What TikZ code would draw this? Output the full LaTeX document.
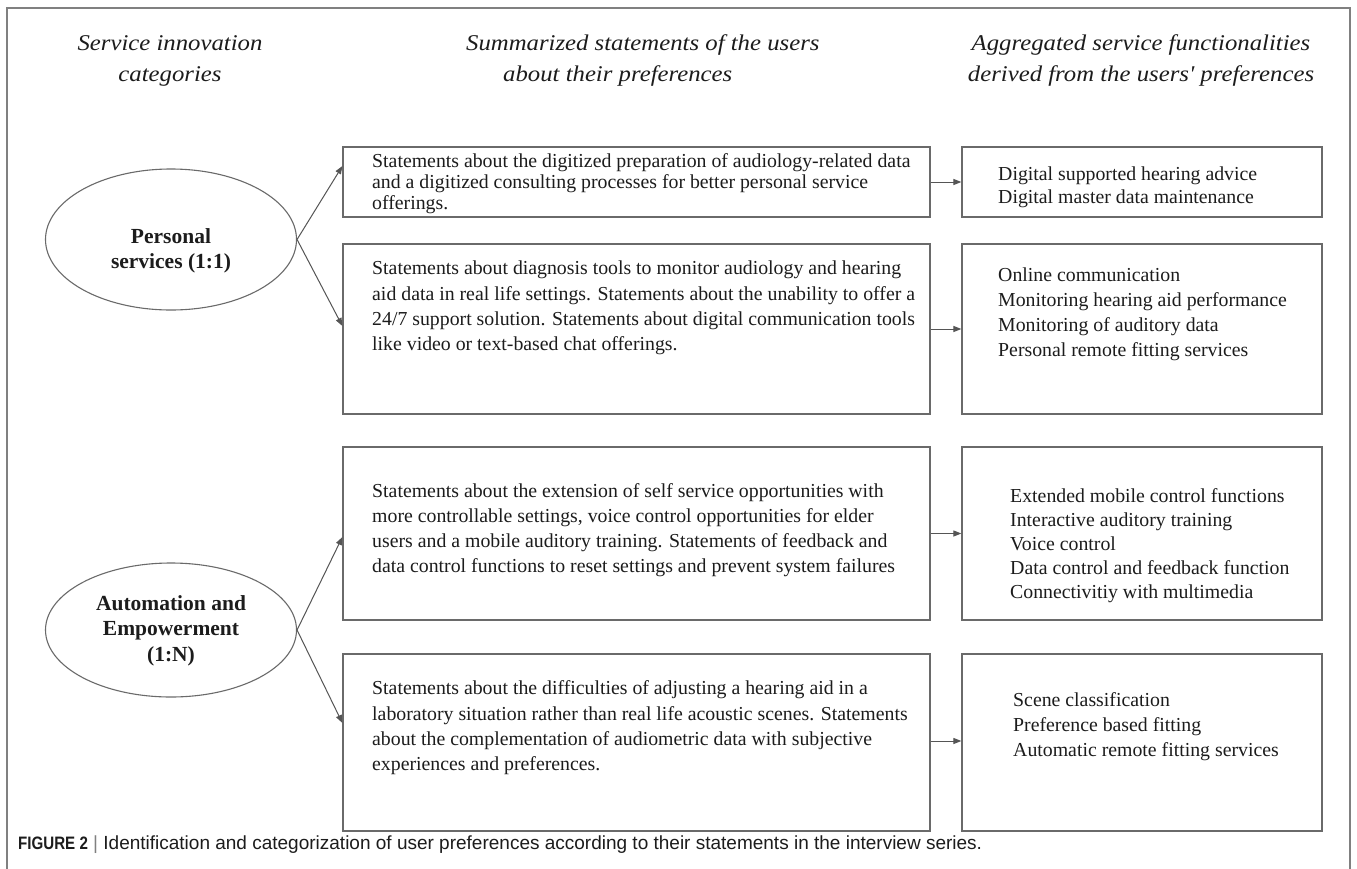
\documentclass[tikz,border=0pt]{standalone}
\usepackage{fontspec}
\setmainfont{Liberation Serif}
\newfontfamily\headfont[FakeStretch=1.1]{Liberation Serif}
\newfontfamily\capbold[FakeStretch=0.84]{Liberation Sans}
\newfontfamily\capreg{Liberation Sans}
\usetikzlibrary{arrows.meta,shapes.geometric}
\definecolor{framegray}{HTML}{808080}
\definecolor{boxgray}{HTML}{6A6A6A}
\definecolor{inkgray}{HTML}{1C1C1C}
\definecolor{arrowgray}{HTML}{555555}

\begin{document}
\begin{tikzpicture}[x=1pt,y=-1pt,
  box/.style={draw=boxgray, line width=1.2pt, rectangle, inner sep=0pt},
  midbox/.style={box, minimum width=587pt},
  funbox/.style={box, minimum width=360pt},
  cat/.style={draw=boxgray, line width=1.1pt, ellipse, inner sep=0pt,
    minimum width=251pt},
  catlabel/.style={anchor=base, align=center, inner sep=0pt, text=inkgray,
    font=\bfseries\fontsize{21.5}{25.5}\selectfont},
  head/.style={inner sep=0pt, text=inkgray,
    font=\headfont\itshape\fontsize{22.5}{31}\selectfont},
  txt/.style={anchor=base west, align=left, inner sep=0pt, text=inkgray,
    font=\fontsize{19.8}{25.2}\selectfont},
  conn/.style={draw=arrowgray, line width=1pt,
    -{Triangle[length=8pt,width=6pt]}}]

\useasboundingbox (0,0) rectangle (1357,868);
\fill[white] (0,0) rectangle (1357,868);
% outer frame, open at the bottom edge
\draw[framegray, line width=1.3pt] (7,875) -- (7,8) -- (1350,8) -- (1350,875);

% column headings (anchor base = baseline of the last line)
\node[head, anchor=base, align=center] (h1) at (170,81) {Service innovation\\categories};
\node[head, anchor=base west, align=left] (h2) at (466,81) {Summarized statements of the users\\\hspace*{37pt}about their preferences};
\node[head, anchor=base, align=center] (h3) at (1141,81) {Aggregated service functionalities\\derived from the users' preferences};

% categories
\node[cat, minimum height=141pt] (c1) at (171,239.5) {};
\node[cat, minimum height=134pt] (c2) at (171,630) {};
\node[catlabel, font=\bfseries\fontsize{21.5}{25}\selectfont] (c1t) at (171,268) {Personal\\services (1:1)};
\node[catlabel] (c2t) at (171,661) {Automation and\\Empowerment\\(1:N)};

% statement boxes
\node[midbox, minimum height=70pt]  (m1) at (636.5,182) {};
\node[midbox, minimum height=170pt] (m2) at (636.5,329) {};
\node[midbox, minimum height=173pt] (m3) at (636.5,533.5) {};
\node[midbox, minimum height=177pt] (m4) at (636.5,742.5) {};

% functionality boxes
\node[funbox, minimum height=70pt]  (f1) at (1142,182) {};
\node[funbox, minimum height=170pt] (f2) at (1142,329) {};
\node[funbox, minimum height=173pt] (f3) at (1142,533.5) {};
\node[funbox, minimum height=177pt] (f4) at (1142,742.5) {};

% statement texts
\node[txt, font=\fontsize{19.8}{21}\selectfont] (t1) at (372,209.5) {Statements about the digitized preparation of audiology-related data\\and a digitized consulting processes for better personal service\\offerings.};
\node[txt, font=\fontsize{19.8}{25.3}\selectfont] (t2) at (372,350.6) {Statements about diagnosis tools to monitor audiology and hearing\\aid data in real life settings. Statements about the unability to offer a\\24/7 support solution. Statements about digital communication tools\\like video or text-based chat offerings.};
\node[txt, font=\fontsize{19.8}{25}\selectfont] (t3) at (372,572.6) {Statements about the extension of self service opportunities with\\more controllable settings, voice control opportunities for elder\\users and a mobile auditory training. Statements of feedback and\\data control functions to reset settings and prevent system failures};
\node[txt, font=\fontsize{19.8}{25.3}\selectfont] (t4) at (372,770.6) {Statements about the difficulties of adjusting a hearing aid in a\\laboratory situation rather than real life acoustic scenes. Statements\\about the complementation of audiometric data with subjective\\experiences and preferences.};

% functionality texts
\node[txt, font=\fontsize{19.8}{23}\selectfont] (u1) at (998,203.6) {Digital supported hearing advice\\Digital master data maintenance};
\node[txt, font=\fontsize{19.8}{25}\selectfont] (u2) at (998,356.6) {Online communication\\Monitoring hearing aid performance\\Monitoring of auditory data\\Personal remote fitting services};
\node[txt, font=\fontsize{19.8}{24}\selectfont] (u3) at (1010,598.6) {Extended mobile control functions\\Interactive auditory training\\Voice control\\Data control and feedback function\\Connectivitiy with multimedia};
\node[txt, font=\fontsize{19.8}{25}\selectfont] (u4) at (1013,756.6) {Scene classification\\Preference based fitting\\Automatic remote fitting services};

% connectors
\draw[conn] (c1.east) -- ([yshift=16pt]m1.west);
\draw[conn] (c1.east) -- ([yshift=3pt]m2.west);
\draw[conn] (c2.east) -- ([yshift=-3.5pt]m3.west);
\draw[conn] (c2.east) -- ([yshift=19.5pt]m4.west);
\draw[conn] (m1.east) -- (f1.west);
\draw[conn] (m2.east) -- (f2.west);
\draw[conn] (m3.east) -- (f3.west);
\draw[conn] ([yshift=1.5pt]m4.east) -- ([yshift=1.5pt]f4.west);

% caption
\node[anchor=base west, inner sep=0pt, text=inkgray, font=\capreg\fontsize{19}{21}\selectfont] (cap) at (18,849)
  {{\capbold\bfseries\fontsize{18}{21}\selectfont FIGURE 2} {\color{framegray}|} Identification and categorization of user preferences according to their statements in the interview series.};
\end{tikzpicture}
\end{document}
